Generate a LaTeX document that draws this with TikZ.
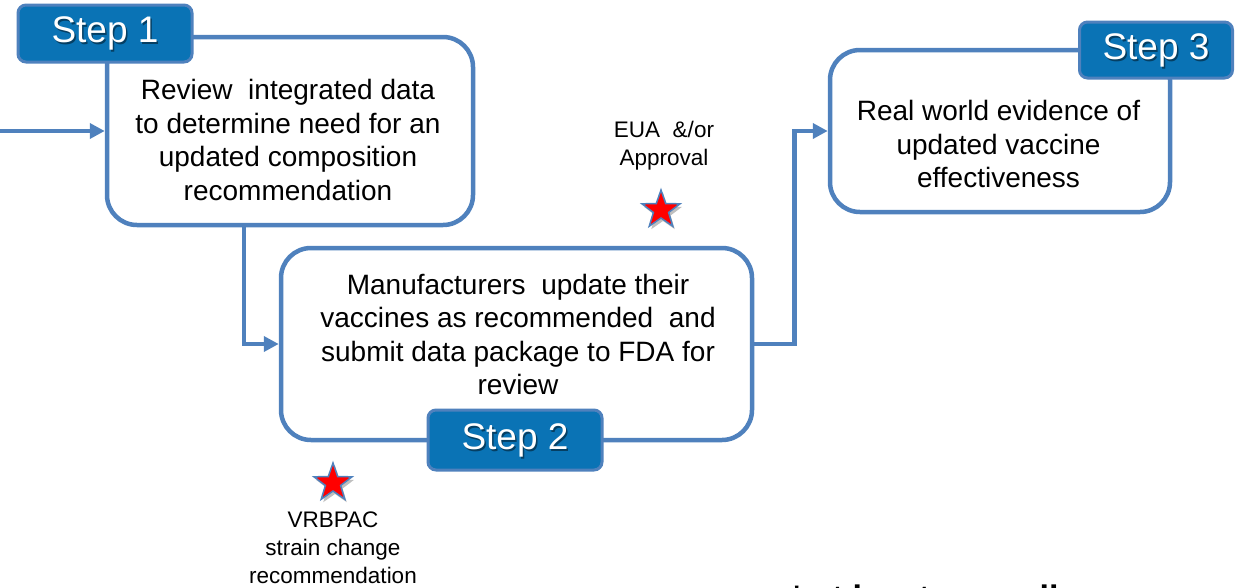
\documentclass[tikz,border=0pt]{standalone}
\usepackage{fontspec}
\setmainfont{Liberation Sans}
\usetikzlibrary{arrows.meta,shapes.geometric,calc}
\definecolor{edgeblue}{RGB}{79,129,189}
\definecolor{stepfill}{RGB}{10,115,181}
\definecolor{starred}{RGB}{255,0,0}
\tikzset{
  procbox/.style={draw=edgeblue, line width=4.5pt, rounded corners=30pt, fill=white, inner sep=0pt},
  proctext/.style={align=center, font=\fontsize{28}{33.5}\selectfont, inner sep=0pt},
  steptag/.style={draw=edgeblue, line width=3pt, rounded corners=8pt, fill=stepfill, inner sep=0pt},
  steptext/.style={text=white, font=\fontsize{37}{37}\selectfont, inner sep=0pt},
  tagshadow/.style={text=black, opacity=0.45, font=\fontsize{37}{37}\selectfont, inner sep=0pt},
  conn/.style={draw=edgeblue, line width=4.5pt, -{Triangle[length=15pt,width=15pt]}},
  milestone/.style={star, star points=5, star point ratio=2.5, draw=edgeblue,
    line width=1.5pt, fill=starred, minimum size=40pt, inner sep=0pt},
  starshadow/.style={star, star points=5, star point ratio=2.5, fill=black, opacity=0.25,
    minimum size=40pt, inner sep=0pt},
  note/.style={align=center, font=\fontsize{22.5}{28}\selectfont, inner sep=0pt},
}
\begin{document}
\begin{tikzpicture}[x=1pt,y=-1pt]
\useasboundingbox (0,0) rectangle (1248,587);

% process boxes
\node[procbox, minimum width=366pt, minimum height=188pt] (review) at (290,131) {};
\node[procbox, minimum width=471pt, minimum height=192pt] (manuf) at (516.5,344) {};
\node[procbox, minimum width=340pt, minimum height=162pt] (rwe) at (1000,131) {};

% box texts
\node[proctext] (reviewtxt) at (288,140)
  {Review\ \ integrated data\\to determine need for an\\updated composition\\recommendation};
\node[proctext] (manuftxt) at (518,334.5)
  {Manufacturers\ \ update their\\vaccines as recommended\ \ and\\submit data package to FDA for\\review};
\node[proctext] (rwetxt) at (998.5,144)
  {Real world evidence of\\updated vaccine\\effectiveness};

% connectors
\coordinate (start) at (0,131);
\coordinate (drop) at ($(review.south)+(-46,0)$);
\draw[conn] (start) -- (review.west);
\draw[conn] (drop) |- (manuf.west);
\draw[conn] (manuf.east) -- ++(40,0) |- (rwe.west);

% step tags
\node[steptag, minimum width=174pt, minimum height=57pt] (tag1) at (105,33.5) {};
\node[tagshadow] at (106.5,35.5) {Step 1};
\node[steptext] (tag1txt) at (tag1) {Step 1};
\node[steptag, minimum width=174pt, minimum height=60pt] (tag2) at (515,440) {};
\node[tagshadow] at (516.5,442) {Step 2};
\node[steptext] (tag2txt) at (tag2) {Step 2};
\node[steptag, minimum width=153pt, minimum height=56pt] (tag3) at (1156,50) {};
\node[tagshadow] at (1157.5,52) {Step 3};
\node[steptext] (tag3txt) at (tag3) {Step 3};

% milestones
\node[note] (eua) at (664,146) {EUA\ \ \&/or\\Approval};
\node[starshadow] at (663,213) {};
\node[milestone] (star1) at (661,210) {};
\node[starshadow] at (335,486) {};
\node[milestone] (star2) at (333,483) {};
\node[note] (vrbpac) at (333,548) {VRBPAC\\strain change\\recommendation};

% footnote running off the lower edge
\node[anchor=base west, inner sep=0pt, font=\bfseries\fontsize{34}{34}\selectfont] (foot) at (790,609)
  {*\ at least annually};
\end{tikzpicture}
\end{document}
